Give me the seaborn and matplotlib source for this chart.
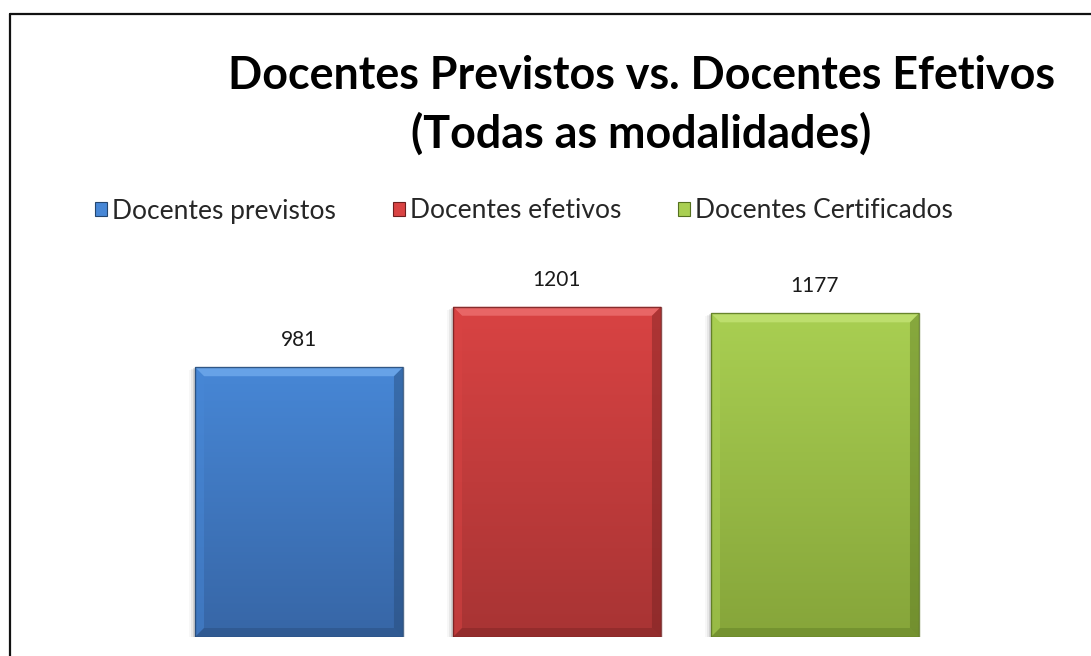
import numpy as np
import matplotlib
matplotlib.use("Agg")
import matplotlib.pyplot as plt
import seaborn as sns
from matplotlib.patches import Patch, Polygon, Rectangle
from matplotlib.lines import Line2D
from matplotlib.colors import LinearSegmentedColormap

# Data
categories = ["Docentes previstos", "Docentes efetivos", "Docentes Certificados"]
values = [981, 1201, 1177]

# Face colours (top, bottom) and bevel tones per series
top_colors = ["#4787d6", "#d94343", "#a9cf52"]
bottom_colors = ["#3766a6", "#a83434", "#86a53a"]
light_colors = ["#76aef0", "#f07676", "#c6e67a"]
dark_colors = ["#24466f", "#6e1f1f", "#55701f"]

sns.set_theme(style="white")
plt.rcParams["font.family"] = ["Lato", "DejaVu Sans"]

fig = plt.figure(figsize=(10.91, 6.56), dpi=100)
W, H = 1091, 656
ax = fig.add_axes([170 / W, 19 / H, 774 / W, 385 / H])

sns.barplot(x=categories, y=values, hue=categories, palette=top_colors,
            width=0.806, legend=False, ax=ax, saturation=1, linewidth=0)

ax.set_xlim(-0.5, 2.5)
ax.set_ylim(0, 1400)
ax.axis("off")

# pixel -> data scale factors for bevel drawing
px_x = 1.0 / (774 / 3.0)
px_y = 1400.0 / 385.0
bev = 9

for i, patch in enumerate(ax.patches):
    x0, y0 = patch.get_x(), patch.get_y()
    w, h = patch.get_width(), patch.get_height()
    x1, y1 = x0 + w, y0 + h
    patch.set_alpha(0)
    # soft shadow on left/bottom
    for k, a in enumerate([0.10, 0.06, 0.03]):
        sh = Rectangle((x0 - (k + 1) * 2 * px_x, y0 - (k + 1) * px_y), w + (k + 1) * 2 * px_x, h,
                       facecolor="#000000", alpha=a, linewidth=0, zorder=1)
        ax.add_patch(sh)
    # vertical gradient face
    cmap = LinearSegmentedColormap.from_list("g", [bottom_colors[i], top_colors[i]])
    grad = np.linspace(0, 1, 256).reshape(-1, 1)
    im = ax.imshow(grad, cmap=cmap, aspect="auto", origin="lower",
                   extent=(x0, x1, y0, y1), zorder=2)
    clip = Rectangle((x0, y0), w, h, transform=ax.transData)
    im.set_clip_path(clip)
    bx, by = bev * px_x, bev * px_y
    # top bevel
    ax.add_patch(Polygon([(x0, y1), (x1, y1), (x1 - bx, y1 - by), (x0 + bx, y1 - by)],
                         facecolor=light_colors[i], alpha=0.7, linewidth=0, zorder=3))
    # left bevel
    ax.add_patch(Polygon([(x0, y0), (x0, y1), (x0 + bx, y1 - by), (x0 + bx, y0 + by)],
                         facecolor=top_colors[i], alpha=0.5, linewidth=0, zorder=3))
    # right bevel
    ax.add_patch(Polygon([(x1, y0), (x1, y1), (x1 - bx, y1 - by), (x1 - bx, y0 + by)],
                         facecolor=dark_colors[i], alpha=0.4, linewidth=0, zorder=3))
    # bottom bevel
    ax.add_patch(Polygon([(x0, y0), (x1, y0), (x1 - bx, y0 + by), (x0 + bx, y0 + by)],
                         facecolor=dark_colors[i], alpha=0.35, linewidth=0, zorder=3))
    # outline
    ax.add_patch(Rectangle((x0, y0), w, h, facecolor="none", edgecolor=dark_colors[i],
                           linewidth=1.0, alpha=0.8, zorder=4))
    ax.text(x0 + w / 2, y1 + 27 * px_y, f"{values[i]}", ha="center", va="center",
            fontsize=15, color="#1a1a1a", zorder=5)

# Title
fig.text(641 / W, 1 - 76 / H, "Docentes Previstos vs. Docentes Efetivos",
         ha="center", va="center", fontsize=32.3, fontweight="bold", color="black")
fig.text(641 / W, 1 - 134 / H, "(Todas as modalidades)",
         ha="center", va="center", fontsize=32.3, fontweight="bold", color="black")

# Legend
handles = [Patch(facecolor=top_colors[i], edgecolor=dark_colors[i], linewidth=0.8)
           for i in range(3)]
fig.legend(handles, categories, loc="center", bbox_to_anchor=(524 / W, 1 - 211 / H),
           ncol=3, frameon=False, fontsize=19, handlelength=0.45, handleheight=0.45,
           handletextpad=0.2, columnspacing=2.15, borderaxespad=0)

# Chart border
fig.add_artist(Line2D([10 / W, 10 / W], [0, 1 - 14 / H], color="#111111", linewidth=1.6))
fig.add_artist(Line2D([10 / W, 1], [1 - 14 / H, 1 - 14 / H], color="#111111", linewidth=1.6))

fig.savefig("out.png", dpi=100, facecolor="white")
